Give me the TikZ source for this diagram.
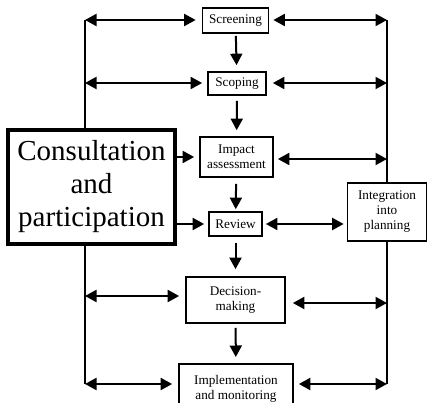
\documentclass[tikz,border=0pt]{standalone}
\usepackage{fontspec}
\setmainfont{Liberation Serif}
\usetikzlibrary{arrows.meta}
\begin{document}
\begin{tikzpicture}[x=1pt,y=-1pt,
  stage/.style={draw,line width=1.7pt,fill=white,align=center,inner sep=0pt,
    font=\fontsize{13.2}{15}\selectfont},
  bigbox/.style={draw,line width=4pt,fill=white,align=center,inner sep=0pt,
    font=\fontsize{29}{33}\selectfont},
  tip/.tip={Triangle[length=11.5pt,width=12pt]},
  link/.style={line width=2pt,-tip},
  twoway/.style={line width=2pt,tip-tip},
  rail/.style={line width=2pt}]
\clip (0,0) rectangle (428,403);

% side rails and their anchor points
\coordinate (L1) at (85,20);
\coordinate (L2) at (85,83);
\coordinate (L5) at (85,296);
\coordinate (L6) at (85,384);
\coordinate (R1) at (387,20);
\coordinate (R2) at (387,83);
\coordinate (R3) at (387,159);
\coordinate (R5) at (387,303);
\coordinate (R6) at (387,384);
\draw[rail] (L1) -- (L6);
\draw[rail] (R1) -- (R6);

% process stages
\node[stage,minimum width=66pt,minimum height=25pt] (scr) at (235.5,20.5) {Screening};
\node[stage,minimum width=58pt,minimum height=23pt] (scp) at (237,83.5) {Scoping};
\node[stage,minimum width=73pt,minimum height=40pt] (imp) at (236.5,157) {Impact\\assessment};
\node[stage,minimum width=53pt,minimum height=24pt] (rev) at (235.5,224) {Review};
\node[stage,minimum width=99pt,minimum height=46pt] (dec) at (235.5,300) {Decision-\\making};
\node[stage,minimum width=114pt,minimum height=50pt,anchor=north] (mon) at (236,363) {Implementation\\and monitoring};
\node[stage,minimum width=79pt,minimum height=58pt] (intg) at (387,212) {Integration\\into\\planning};
\node[bigbox,minimum width=167pt,minimum height=114pt] (cons) at (91.5,187) {Consultation\\and\\participation};

% main sequence
\draw[link,shorten <=2pt,shorten >=6pt] (scr) -- (scp);
\draw[link,shorten <=5pt,shorten >=6pt] (scp) -- (imp);
\draw[link,shorten <=6pt,shorten >=2pt] (imp) -- (rev);
\draw[link,shorten <=6pt,shorten >=7pt] (rev) -- (dec);
\draw[link,shorten <=4pt,shorten >=6pt] (dec) -- (mon);

% consultation feeds
\draw[link,shorten >=5pt] (cons.east |- imp) -- (imp.west);
\draw[link,shorten >=4pt] (cons.east |- rev) -- (rev.west);

% two-way links with the left rail
\draw[twoway,shorten >=6pt] (L1) -- (L1 -| scr.west);
\draw[twoway,shorten >=5pt] (L2) -- (L2 -| scp.west);
\draw[twoway,shorten >=6pt] (L5) -- (L5 -| dec.west);
\draw[twoway,shorten >=6pt] (L6) -- (L6 -| mon.west);

% two-way links with the right rail
\draw[twoway,shorten <=4pt] (R1 -| scr.east) -- (R1);
\draw[twoway,shorten <=6pt] (R2 -| scp.east) -- (R2);
\draw[twoway,shorten <=4pt] (R3 -| imp.east) -- (R3);
\draw[twoway,shorten <=3pt,shorten >=3pt] (rev.east) -- (rev.east -| intg.west);
\draw[twoway,shorten <=7pt] (R5 -| dec.east) -- (R5);
\draw[twoway,shorten <=5pt] (R6 -| mon.east) -- (R6);
\end{tikzpicture}
\end{document}
